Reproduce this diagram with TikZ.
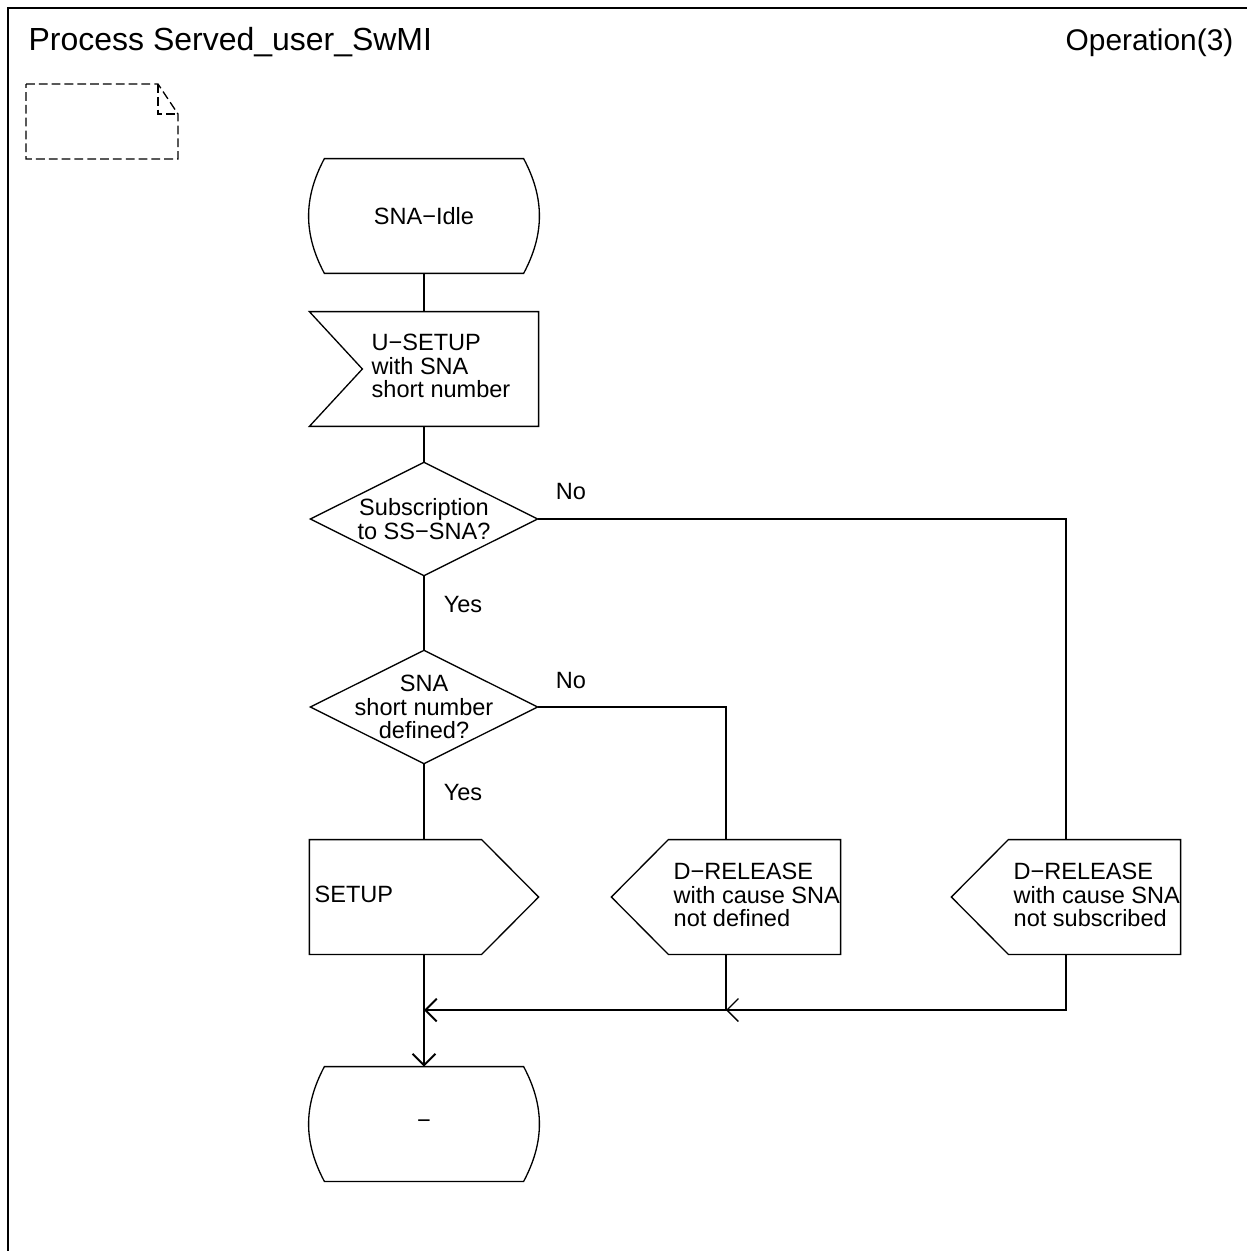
\documentclass[tikz,border=0pt]{standalone}
\usepackage{fontspec}
\setmainfont{Liberation Sans}
\usetikzlibrary{calc,arrows.meta}
\begin{document}
\begin{tikzpicture}[x=0.02cm, y=-0.02cm, line width=0.75pt,
  every node/.style={inner sep=0pt, font=\fontsize{13.4}{13.3}\selectfont},
  blk/.style={minimum width=4.56cm, minimum height=2.27cm},
  dia/.style={minimum width=4.52cm, minimum height=2.24cm, align=center},
  txt/.style={anchor=west, align=left},
  flow/.style={-{Straight Barb[length=6.5pt,width=13pt]}, line width=1.1pt}]
  \useasboundingbox (0,0) rectangle (1247,1251);
  % frame, header and empty note
  \draw[line width=1.1pt] (8,1251) -- (8,8) -- (1247,8);
  \node(Title)[anchor=base west, font=\fontsize{18.2}{20}\selectfont] at(28,50) {Process Served\_user\_SwMI};
  \node(Page)[anchor=base east, font=\fontsize{17}{20}\selectfont] at(1234,50) {Operation(3)};
  \draw[dash pattern=on 5pt off 2.3pt] (26,84) -- (158,84) -- (178,114) -- (178,159) -- (26,159) -- cycle;
  \draw[dash pattern=on 5pt off 2.3pt] (158,84) -- (158,114) -- (178,114);

  \node(Idle)[blk] at(424,216) {SNA−Idle};
  \node(Usetup)[blk] at(424,369) {};
  \node(UsetupT)[txt] at(371,366) {U−SETUP\\with SNA\\short number};
  \node(Ask1)[dia] at(424,519) {Subscription\\to SS−SNA?};
  \node(Ask2)[dia] at(424,707) {SNA\\short number\\defined?};
  \foreach \n/\x in {Setup/424,Rel1/726,Rel2/1066}{%
    \node(\n)[blk] at(\x,897) {};
  }
  \node(SetupT)[txt] at(314,894) {SETUP};
  \node(Rel1T)[txt] at(673,895) {D−RELEASE\\with cause SNA\\not defined};
  \node(Rel2T)[txt] at(1013,895) {D−RELEASE\\with cause SNA\\not subscribed};
  \node(End)[blk] at(424,1124) {−};
  \foreach \n/\x/\y/\t in {No1/571/492/No,No2/571/681/No,Yes1/463/605/Yes,Yes2/463/793/Yes}{%
    \node(\n) at(\x,\y) {\t};
  }

  % outlines of the symbols
  \foreach \n in {Idle,End}{%
    \draw ($(\n.north west)+(15,0)$) -- ($(\n.north east)+(-15,0)$) to[out=-62,in=62] ($(\n.south east)+(-15,0)$)
      -- ($(\n.south west)+(15,0)$) to[out=118,in=-118] ($(\n.north west)+(15,0)$) -- cycle;
  }
  \foreach \n in {Ask1,Ask2}{%
    \draw (\n.north) -- (\n.east) -- (\n.south) -- (\n.west) -- cycle;
  }
  \draw (Usetup.north west) -- (Usetup.north east) -- (Usetup.south east) -- (Usetup.south west) -- ($(Usetup.west)+(53,0)$) -- cycle;
  \draw (Setup.north west) -- ($(Setup.north east)+(-57,0)$) -- (Setup.east) -- ($(Setup.south east)+(-57,0)$) -- (Setup.south west) -- cycle;
  \foreach \n in {Rel1,Rel2}{%
    \draw (\n.west) -- ($(\n.north west)+(57,0)$) -- (\n.north east) -- (\n.south east) -- ($(\n.south west)+(57,0)$) -- cycle;
  }

  \draw (Idle.south) -- (Usetup.north) (Usetup.south) -- (Ask1.north) (Ask1.south) -- (Ask2.north) (Ask2.south) -- (Setup.north);
  \draw (Ask1.east) -| (Rel2.north) (Ask2.east) -| (Rel1.north);
  \coordinate(Join) at(424,1010);
  \draw (Setup.south) -- (Join);
  \draw[-{Straight Barb[length=6.5pt,width=13pt]}] (Rel2.south) |- (Rel1.south |- Join);
  \draw[flow] (Rel1.south) |- (Join);
  \draw[flow] (Join) -- (End.north);
\end{tikzpicture}
\end{document}
